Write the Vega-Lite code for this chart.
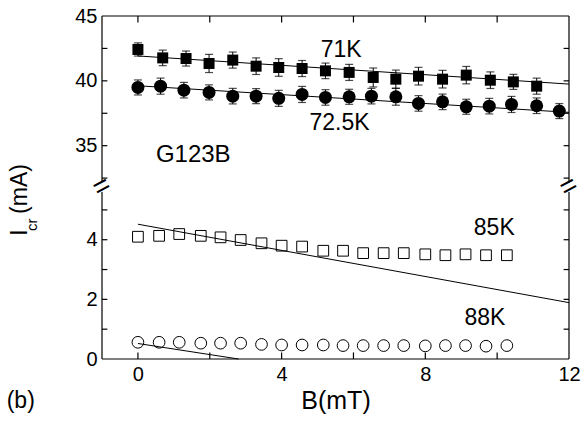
{
  "$schema": "https://vega.github.io/schema/vega-lite/v6.json",
  "width": 467,
  "height": 343,
  "autosize": {"type": "none"},
  "padding": {"left": 102, "top": 16, "right": 15, "bottom": 64},
  "background": "white",
  "datasets": {
    "points": [
      {"series": "71K", "B": 0, "I": 42.42, "lo": 41.91, "hi": 42.93},
      {"series": "71K", "B": 0.69, "I": 41.77, "lo": 41.17, "hi": 42.37},
      {"series": "71K", "B": 1.34, "I": 41.72, "lo": 41.14, "hi": 42.3},
      {"series": "71K", "B": 1.98, "I": 41.34, "lo": 40.64, "hi": 42.04},
      {"series": "71K", "B": 2.64, "I": 41.6, "lo": 40.98, "hi": 42.22},
      {"series": "71K", "B": 3.29, "I": 41.13, "lo": 40.49, "hi": 41.77},
      {"series": "71K", "B": 3.92, "I": 41.03, "lo": 40.35, "hi": 41.71},
      {"series": "71K", "B": 4.57, "I": 40.95, "lo": 40.33, "hi": 41.57},
      {"series": "71K", "B": 5.22, "I": 40.77, "lo": 40.17, "hi": 41.37},
      {"series": "71K", "B": 5.88, "I": 40.65, "lo": 40.03, "hi": 41.27},
      {"series": "71K", "B": 6.55, "I": 40.26, "lo": 39.53, "hi": 40.99},
      {"series": "71K", "B": 7.18, "I": 40.13, "lo": 39.43, "hi": 40.83},
      {"series": "71K", "B": 7.81, "I": 40.36, "lo": 39.68, "hi": 41.04},
      {"series": "71K", "B": 8.48, "I": 40.13, "lo": 39.45, "hi": 40.81},
      {"series": "71K", "B": 9.14, "I": 40.44, "lo": 39.77, "hi": 41.11},
      {"series": "71K", "B": 9.81, "I": 40.05, "lo": 39.41, "hi": 40.69},
      {"series": "71K", "B": 10.45, "I": 39.92, "lo": 39.34, "hi": 40.5},
      {"series": "71K", "B": 11.1, "I": 39.59, "lo": 38.97, "hi": 40.21},
      {"series": "72.5K", "B": 0, "I": 39.49, "lo": 38.91, "hi": 40.07},
      {"series": "72.5K", "B": 0.63, "I": 39.59, "lo": 38.97, "hi": 40.21},
      {"series": "72.5K", "B": 1.28, "I": 39.28, "lo": 38.68, "hi": 39.88},
      {"series": "72.5K", "B": 1.98, "I": 39.11, "lo": 38.53, "hi": 39.69},
      {"series": "72.5K", "B": 2.64, "I": 38.82, "lo": 38.22, "hi": 39.42},
      {"series": "72.5K", "B": 3.29, "I": 38.82, "lo": 38.24, "hi": 39.4},
      {"series": "72.5K", "B": 3.92, "I": 38.65, "lo": 38.03, "hi": 39.27},
      {"series": "72.5K", "B": 4.57, "I": 38.95, "lo": 38.33, "hi": 39.57},
      {"series": "72.5K", "B": 5.22, "I": 38.72, "lo": 38.12, "hi": 39.32},
      {"series": "72.5K", "B": 5.88, "I": 38.77, "lo": 38.19, "hi": 39.35},
      {"series": "72.5K", "B": 6.5, "I": 38.82, "lo": 38.22, "hi": 39.42},
      {"series": "72.5K", "B": 7.18, "I": 38.77, "lo": 38.12, "hi": 39.42},
      {"series": "72.5K", "B": 7.81, "I": 38.26, "lo": 37.66, "hi": 38.86},
      {"series": "72.5K", "B": 8.48, "I": 38.38, "lo": 37.78, "hi": 38.98},
      {"series": "72.5K", "B": 9.14, "I": 38.0, "lo": 37.42, "hi": 38.58},
      {"series": "72.5K", "B": 9.78, "I": 38.05, "lo": 37.45, "hi": 38.65},
      {"series": "72.5K", "B": 10.4, "I": 38.18, "lo": 37.56, "hi": 38.8},
      {"series": "72.5K", "B": 11.1, "I": 38.08, "lo": 37.48, "hi": 38.68},
      {"series": "72.5K", "B": 11.73, "I": 37.67, "lo": 37.09, "hi": 38.25},
      {"series": "85K", "B": 0, "I": 4.1},
      {"series": "85K", "B": 0.59, "I": 4.13},
      {"series": "85K", "B": 1.15, "I": 4.19},
      {"series": "85K", "B": 1.75, "I": 4.13},
      {"series": "85K", "B": 2.3, "I": 4.08},
      {"series": "85K", "B": 2.86, "I": 3.99},
      {"series": "85K", "B": 3.44, "I": 3.88},
      {"series": "85K", "B": 4.0, "I": 3.8},
      {"series": "85K", "B": 4.57, "I": 3.77},
      {"series": "85K", "B": 5.16, "I": 3.63},
      {"series": "85K", "B": 5.71, "I": 3.63},
      {"series": "85K", "B": 6.27, "I": 3.55},
      {"series": "85K", "B": 6.84, "I": 3.55},
      {"series": "85K", "B": 7.4, "I": 3.55},
      {"series": "85K", "B": 8.0, "I": 3.51},
      {"series": "85K", "B": 8.56, "I": 3.48},
      {"series": "85K", "B": 9.12, "I": 3.51},
      {"series": "85K", "B": 9.69, "I": 3.48},
      {"series": "85K", "B": 10.27, "I": 3.48},
      {"series": "88K", "B": 0, "I": 0.56},
      {"series": "88K", "B": 0.59, "I": 0.56},
      {"series": "88K", "B": 1.15, "I": 0.56},
      {"series": "88K", "B": 1.75, "I": 0.53},
      {"series": "88K", "B": 2.3, "I": 0.53},
      {"series": "88K", "B": 2.86, "I": 0.53},
      {"series": "88K", "B": 3.44, "I": 0.49},
      {"series": "88K", "B": 4.0, "I": 0.47},
      {"series": "88K", "B": 4.57, "I": 0.47},
      {"series": "88K", "B": 5.16, "I": 0.47},
      {"series": "88K", "B": 5.71, "I": 0.45},
      {"series": "88K", "B": 6.27, "I": 0.45},
      {"series": "88K", "B": 6.84, "I": 0.45},
      {"series": "88K", "B": 7.4, "I": 0.45},
      {"series": "88K", "B": 8.0, "I": 0.44},
      {"series": "88K", "B": 8.56, "I": 0.45},
      {"series": "88K", "B": 9.12, "I": 0.45},
      {"series": "88K", "B": 9.69, "I": 0.43},
      {"series": "88K", "B": 10.27, "I": 0.45}
    ],
    "fits": [
      {"series": "71K", "B": 0, "I": 41.92},
      {"series": "71K", "B": 12, "I": 39.75},
      {"series": "72.5K", "B": 0, "I": 39.62},
      {"series": "72.5K", "B": 12, "I": 37.57},
      {"series": "85K", "B": 0, "I": 4.52},
      {"series": "85K", "B": 12, "I": 1.89},
      {"series": "88K", "B": 0, "I": 0.52},
      {"series": "88K", "B": 2.8, "I": 0}
    ],
    "frame": [
      {"x1": -1, "x2": -1, "y1": 0, "y2": 45},
      {"x1": 12, "x2": 12, "y1": 0, "y2": 45},
      {"x1": -1, "x2": 12, "y1": 0, "y2": 0},
      {"x1": -1, "x2": 12, "y1": 45, "y2": 45},
      {"x1": 0, "x2": 0, "y1": 0, "y2": 0.22},
      {"x1": 2, "x2": 2, "y1": 0, "y2": 0.22},
      {"x1": 4, "x2": 4, "y1": 0, "y2": 0.22},
      {"x1": 6, "x2": 6, "y1": 0, "y2": 0.22},
      {"x1": 8, "x2": 8, "y1": 0, "y2": 0.22},
      {"x1": 10, "x2": 10, "y1": 0, "y2": 0.22},
      {"x1": 0, "x2": 0, "y1": 45, "y2": 44.5},
      {"x1": 2, "x2": 2, "y1": 45, "y2": 44.5},
      {"x1": 4, "x2": 4, "y1": 45, "y2": 44.5},
      {"x1": 6, "x2": 6, "y1": 45, "y2": 44.5},
      {"x1": 8, "x2": 8, "y1": 45, "y2": 44.5},
      {"x1": 10, "x2": 10, "y1": 45, "y2": 44.5},
      {"x1": -1, "x2": -0.85, "y1": 1, "y2": 1},
      {"x1": -1, "x2": -0.85, "y1": 2, "y2": 2},
      {"x1": -1, "x2": -0.85, "y1": 3, "y2": 3},
      {"x1": -1, "x2": -0.85, "y1": 4, "y2": 4},
      {"x1": -1, "x2": -0.85, "y1": 5, "y2": 5},
      {"x1": -1, "x2": -0.85, "y1": 32.5, "y2": 32.5},
      {"x1": -1, "x2": -0.85, "y1": 35, "y2": 35},
      {"x1": -1, "x2": -0.85, "y1": 37.5, "y2": 37.5},
      {"x1": -1, "x2": -0.85, "y1": 40, "y2": 40},
      {"x1": -1, "x2": -0.85, "y1": 42.5, "y2": 42.5},
      {"x1": 12, "x2": 11.85, "y1": 1, "y2": 1},
      {"x1": 12, "x2": 11.85, "y1": 2, "y2": 2},
      {"x1": 12, "x2": 11.85, "y1": 3, "y2": 3},
      {"x1": 12, "x2": 11.85, "y1": 4, "y2": 4},
      {"x1": 12, "x2": 11.85, "y1": 5, "y2": 5},
      {"x1": 12, "x2": 11.85, "y1": 32.5, "y2": 32.5},
      {"x1": 12, "x2": 11.85, "y1": 35, "y2": 35},
      {"x1": 12, "x2": 11.85, "y1": 37.5, "y2": 37.5},
      {"x1": 12, "x2": 11.85, "y1": 40, "y2": 40},
      {"x1": 12, "x2": 11.85, "y1": 42.5, "y2": 42.5}
    ],
    "gap": [
      {"x1": -1, "x2": -1, "y1": 5.8, "y2": 32.0},
      {"x1": 12, "x2": 12, "y1": 5.8, "y2": 32.0}
    ],
    "one": [{}]
  },
  "layer": [
    {
      "data": {"name": "fits"},
      "mark": {"type": "line", "color": "black", "strokeWidth": 1},
      "encoding": {
        "x": {"field": "B", "type": "quantitative", "scale": {"domain": [-1, 12], "nice": false, "zero": false},
          "axis": {"orient": "bottom", "title": "B(mT)", "values": [0, 4, 8, 12], "domain": false, "ticks": false, "labelPadding": 5, "labelFlush": false, "titlePadding": 4}},
        "y": {"field": "I", "type": "quantitative", "scale": {"domain": [0, 5.6, 32.2, 45], "range": [343, 176, 166, 0], "nice": false, "zero": false},
          "axis": {"orient": "left", "title": null, "values": [0, 2, 4, 35, 40, 45], "domain": false, "ticks": false, "labelPadding": 5, "labelFlush": false}},
        "detail": {"field": "series"}
      }
    },
    {
      "data": {"name": "frame"},
      "mark": {"type": "rule", "color": "black", "strokeWidth": 1.2},
      "encoding": {
        "x": {"field": "x1", "type": "quantitative", "scale": {"domain": [-1, 12], "nice": false, "zero": false},
          "axis": {"orient": "bottom", "title": "B(mT)", "values": [0, 4, 8, 12], "domain": false, "ticks": false, "labelPadding": 5, "labelFlush": false, "titlePadding": 4}},
        "x2": {"field": "x2"},
        "y": {"field": "y1", "type": "quantitative", "scale": {"domain": [0, 5.6, 32.2, 45], "range": [343, 176, 166, 0], "nice": false, "zero": false},
          "axis": {"orient": "left", "title": null, "values": [0, 2, 4, 35, 40, 45], "domain": false, "ticks": false, "labelPadding": 5, "labelFlush": false}},
        "y2": {"field": "y2"}
      }
    },
    {
      "data": {"name": "gap"},
      "mark": {"type": "rule", "color": "white", "strokeWidth": 5},
      "encoding": {
        "x": {"field": "x1", "type": "quantitative", "scale": {"domain": [-1, 12], "nice": false, "zero": false},
          "axis": {"orient": "bottom", "title": "B(mT)", "values": [0, 4, 8, 12], "domain": false, "ticks": false, "labelPadding": 5, "labelFlush": false, "titlePadding": 4}},
        "x2": {"field": "x2"},
        "y": {"field": "y1", "type": "quantitative", "scale": {"domain": [0, 5.6, 32.2, 45], "range": [343, 176, 166, 0], "nice": false, "zero": false},
          "axis": {"orient": "left", "title": null, "values": [0, 2, 4, 35, 40, 45], "domain": false, "ticks": false, "labelPadding": 5, "labelFlush": false}},
        "y2": {"field": "y2"}
      }
    },
    {
      "data": {"name": "one"},
      "mark": {"type": "text", "text": "=", "fontSize": 28, "angle": -28, "align": "center", "baseline": "middle", "color": "black"},
      "encoding": {
        "x": {"datum": -1, "type": "quantitative", "scale": {"domain": [-1, 12], "nice": false, "zero": false},
          "axis": {"orient": "bottom", "title": "B(mT)", "values": [0, 4, 8, 12], "domain": false, "ticks": false, "labelPadding": 5, "labelFlush": false, "titlePadding": 4}},
        "y": {"datum": 18.9, "type": "quantitative", "scale": {"domain": [0, 5.6, 32.2, 45], "range": [343, 176, 166, 0], "nice": false, "zero": false},
          "axis": {"orient": "left", "title": null, "values": [0, 2, 4, 35, 40, 45], "domain": false, "ticks": false, "labelPadding": 5, "labelFlush": false}}
      }
    },
    {
      "data": {"name": "one"},
      "mark": {"type": "text", "text": "=", "fontSize": 28, "angle": -28, "align": "center", "baseline": "middle", "color": "black"},
      "encoding": {
        "x": {"datum": 12, "type": "quantitative", "scale": {"domain": [-1, 12], "nice": false, "zero": false},
          "axis": {"orient": "bottom", "title": "B(mT)", "values": [0, 4, 8, 12], "domain": false, "ticks": false, "labelPadding": 5, "labelFlush": false, "titlePadding": 4}},
        "y": {"datum": 18.9, "type": "quantitative", "scale": {"domain": [0, 5.6, 32.2, 45], "range": [343, 176, 166, 0], "nice": false, "zero": false},
          "axis": {"orient": "left", "title": null, "values": [0, 2, 4, 35, 40, 45], "domain": false, "ticks": false, "labelPadding": 5, "labelFlush": false}}
      }
    },
    {
      "data": {"name": "points"},
      "transform": [{"filter": "isValid(datum.lo)"}],
      "mark": {"type": "rule", "color": "black", "strokeWidth": 1},
      "encoding": {
        "x": {"field": "B", "type": "quantitative", "scale": {"domain": [-1, 12], "nice": false, "zero": false},
          "axis": {"orient": "bottom", "title": "B(mT)", "values": [0, 4, 8, 12], "domain": false, "ticks": false, "labelPadding": 5, "labelFlush": false, "titlePadding": 4}},
        "y": {"field": "lo", "type": "quantitative", "scale": {"domain": [0, 5.6, 32.2, 45], "range": [343, 176, 166, 0], "nice": false, "zero": false},
          "axis": {"orient": "left", "title": null, "values": [0, 2, 4, 35, 40, 45], "domain": false, "ticks": false, "labelPadding": 5, "labelFlush": false}},
        "y2": {"field": "hi"}
      }
    },
    {
      "data": {"name": "points"},
      "transform": [{"filter": "isValid(datum.lo)"}],
      "mark": {"type": "tick", "orient": "horizontal", "color": "black", "size": 8, "thickness": 1.2},
      "encoding": {
        "x": {"field": "B", "type": "quantitative", "scale": {"domain": [-1, 12], "nice": false, "zero": false},
          "axis": {"orient": "bottom", "title": "B(mT)", "values": [0, 4, 8, 12], "domain": false, "ticks": false, "labelPadding": 5, "labelFlush": false, "titlePadding": 4}},
        "y": {"field": "lo", "type": "quantitative", "scale": {"domain": [0, 5.6, 32.2, 45], "range": [343, 176, 166, 0], "nice": false, "zero": false},
          "axis": {"orient": "left", "title": null, "values": [0, 2, 4, 35, 40, 45], "domain": false, "ticks": false, "labelPadding": 5, "labelFlush": false}}
      }
    },
    {
      "data": {"name": "points"},
      "transform": [{"filter": "isValid(datum.hi)"}],
      "mark": {"type": "tick", "orient": "horizontal", "color": "black", "size": 8, "thickness": 1.2},
      "encoding": {
        "x": {"field": "B", "type": "quantitative", "scale": {"domain": [-1, 12], "nice": false, "zero": false},
          "axis": {"orient": "bottom", "title": "B(mT)", "values": [0, 4, 8, 12], "domain": false, "ticks": false, "labelPadding": 5, "labelFlush": false, "titlePadding": 4}},
        "y": {"field": "hi", "type": "quantitative", "scale": {"domain": [0, 5.6, 32.2, 45], "range": [343, 176, 166, 0], "nice": false, "zero": false},
          "axis": {"orient": "left", "title": null, "values": [0, 2, 4, 35, 40, 45], "domain": false, "ticks": false, "labelPadding": 5, "labelFlush": false}}
      }
    },
    {
      "data": {"name": "points"},
      "transform": [{"filter": "datum.series === '71K'"}],
      "mark": {"type": "point", "shape": "square", "filled": true, "color": "black", "size": 121, "opacity": 1},
      "encoding": {
        "x": {"field": "B", "type": "quantitative", "scale": {"domain": [-1, 12], "nice": false, "zero": false},
          "axis": {"orient": "bottom", "title": "B(mT)", "values": [0, 4, 8, 12], "domain": false, "ticks": false, "labelPadding": 5, "labelFlush": false, "titlePadding": 4}},
        "y": {"field": "I", "type": "quantitative", "scale": {"domain": [0, 5.6, 32.2, 45], "range": [343, 176, 166, 0], "nice": false, "zero": false},
          "axis": {"orient": "left", "title": null, "values": [0, 2, 4, 35, 40, 45], "domain": false, "ticks": false, "labelPadding": 5, "labelFlush": false}}
      }
    },
    {
      "data": {"name": "points"},
      "transform": [{"filter": "datum.series === '72.5K'"}],
      "mark": {"type": "point", "shape": "circle", "filled": true, "color": "black", "size": 169, "opacity": 1},
      "encoding": {
        "x": {"field": "B", "type": "quantitative", "scale": {"domain": [-1, 12], "nice": false, "zero": false},
          "axis": {"orient": "bottom", "title": "B(mT)", "values": [0, 4, 8, 12], "domain": false, "ticks": false, "labelPadding": 5, "labelFlush": false, "titlePadding": 4}},
        "y": {"field": "I", "type": "quantitative", "scale": {"domain": [0, 5.6, 32.2, 45], "range": [343, 176, 166, 0], "nice": false, "zero": false},
          "axis": {"orient": "left", "title": null, "values": [0, 2, 4, 35, 40, 45], "domain": false, "ticks": false, "labelPadding": 5, "labelFlush": false}}
      }
    },
    {
      "data": {"name": "points"},
      "transform": [{"filter": "datum.series === '85K'"}],
      "mark": {"type": "point", "shape": "square", "filled": false, "color": "black", "strokeWidth": 1, "size": 115, "opacity": 1},
      "encoding": {
        "x": {"field": "B", "type": "quantitative", "scale": {"domain": [-1, 12], "nice": false, "zero": false},
          "axis": {"orient": "bottom", "title": "B(mT)", "values": [0, 4, 8, 12], "domain": false, "ticks": false, "labelPadding": 5, "labelFlush": false, "titlePadding": 4}},
        "y": {"field": "I", "type": "quantitative", "scale": {"domain": [0, 5.6, 32.2, 45], "range": [343, 176, 166, 0], "nice": false, "zero": false},
          "axis": {"orient": "left", "title": null, "values": [0, 2, 4, 35, 40, 45], "domain": false, "ticks": false, "labelPadding": 5, "labelFlush": false}}
      }
    },
    {
      "data": {"name": "points"},
      "transform": [{"filter": "datum.series === '88K'"}],
      "mark": {"type": "point", "shape": "circle", "filled": false, "color": "black", "strokeWidth": 1, "size": 137, "opacity": 1},
      "encoding": {
        "x": {"field": "B", "type": "quantitative", "scale": {"domain": [-1, 12], "nice": false, "zero": false},
          "axis": {"orient": "bottom", "title": "B(mT)", "values": [0, 4, 8, 12], "domain": false, "ticks": false, "labelPadding": 5, "labelFlush": false, "titlePadding": 4}},
        "y": {"field": "I", "type": "quantitative", "scale": {"domain": [0, 5.6, 32.2, 45], "range": [343, 176, 166, 0], "nice": false, "zero": false},
          "axis": {"orient": "left", "title": null, "values": [0, 2, 4, 35, 40, 45], "domain": false, "ticks": false, "labelPadding": 5, "labelFlush": false}}
      }
    },
    {
      "data": {"name": "one"},
      "mark": {"type": "text", "text": "71K", "fontSize": 23, "align": "center", "baseline": "middle"},
      "encoding": {
        "x": {"datum": 5.66, "type": "quantitative", "scale": {"domain": [-1, 12], "nice": false, "zero": false},
          "axis": {"orient": "bottom", "title": "B(mT)", "values": [0, 4, 8, 12], "domain": false, "ticks": false, "labelPadding": 5, "labelFlush": false, "titlePadding": 4}},
        "y": {"datum": 42.38, "type": "quantitative", "scale": {"domain": [0, 5.6, 32.2, 45], "range": [343, 176, 166, 0], "nice": false, "zero": false},
          "axis": {"orient": "left", "title": null, "values": [0, 2, 4, 35, 40, 45], "domain": false, "ticks": false, "labelPadding": 5, "labelFlush": false}}
      }
    },
    {
      "data": {"name": "one"},
      "mark": {"type": "text", "text": "72.5K", "fontSize": 23, "align": "center", "baseline": "middle"},
      "encoding": {
        "x": {"datum": 5.61, "type": "quantitative", "scale": {"domain": [-1, 12], "nice": false, "zero": false},
          "axis": {"orient": "bottom", "title": "B(mT)", "values": [0, 4, 8, 12], "domain": false, "ticks": false, "labelPadding": 5, "labelFlush": false, "titlePadding": 4}},
        "y": {"datum": 36.75, "type": "quantitative", "scale": {"domain": [0, 5.6, 32.2, 45], "range": [343, 176, 166, 0], "nice": false, "zero": false},
          "axis": {"orient": "left", "title": null, "values": [0, 2, 4, 35, 40, 45], "domain": false, "ticks": false, "labelPadding": 5, "labelFlush": false}}
      }
    },
    {
      "data": {"name": "one"},
      "mark": {"type": "text", "text": "G123B", "fontSize": 24, "align": "center", "baseline": "middle"},
      "encoding": {
        "x": {"datum": 1.54, "type": "quantitative", "scale": {"domain": [-1, 12], "nice": false, "zero": false},
          "axis": {"orient": "bottom", "title": "B(mT)", "values": [0, 4, 8, 12], "domain": false, "ticks": false, "labelPadding": 5, "labelFlush": false, "titlePadding": 4}},
        "y": {"datum": 34.25, "type": "quantitative", "scale": {"domain": [0, 5.6, 32.2, 45], "range": [343, 176, 166, 0], "nice": false, "zero": false},
          "axis": {"orient": "left", "title": null, "values": [0, 2, 4, 35, 40, 45], "domain": false, "ticks": false, "labelPadding": 5, "labelFlush": false}}
      }
    },
    {
      "data": {"name": "one"},
      "mark": {"type": "text", "text": "85K", "fontSize": 23, "align": "center", "baseline": "middle"},
      "encoding": {
        "x": {"datum": 9.92, "type": "quantitative", "scale": {"domain": [-1, 12], "nice": false, "zero": false},
          "axis": {"orient": "bottom", "title": "B(mT)", "values": [0, 4, 8, 12], "domain": false, "ticks": false, "labelPadding": 5, "labelFlush": false, "titlePadding": 4}},
        "y": {"datum": 4.4, "type": "quantitative", "scale": {"domain": [0, 5.6, 32.2, 45], "range": [343, 176, 166, 0], "nice": false, "zero": false},
          "axis": {"orient": "left", "title": null, "values": [0, 2, 4, 35, 40, 45], "domain": false, "ticks": false, "labelPadding": 5, "labelFlush": false}}
      }
    },
    {
      "data": {"name": "one"},
      "mark": {"type": "text", "text": "88K", "fontSize": 23, "align": "center", "baseline": "middle"},
      "encoding": {
        "x": {"datum": 9.66, "type": "quantitative", "scale": {"domain": [-1, 12], "nice": false, "zero": false},
          "axis": {"orient": "bottom", "title": "B(mT)", "values": [0, 4, 8, 12], "domain": false, "ticks": false, "labelPadding": 5, "labelFlush": false, "titlePadding": 4}},
        "y": {"datum": 1.39, "type": "quantitative", "scale": {"domain": [0, 5.6, 32.2, 45], "range": [343, 176, 166, 0], "nice": false, "zero": false},
          "axis": {"orient": "left", "title": null, "values": [0, 2, 4, 35, 40, 45], "domain": false, "ticks": false, "labelPadding": 5, "labelFlush": false}}
      }
    },
    {
      "data": {"name": "one"},
      "mark": {"type": "text", "text": "I", "fontSize": 23, "angle": 270, "align": "left", "baseline": "alphabetic"},
      "encoding": {
        "x": {"datum": -3.083, "type": "quantitative", "scale": {"domain": [-1, 12], "nice": false, "zero": false},
          "axis": {"orient": "bottom", "title": "B(mT)", "values": [0, 4, 8, 12], "domain": false, "ticks": false, "labelPadding": 5, "labelFlush": false, "titlePadding": 4}},
        "y": {"datum": 4.13, "type": "quantitative", "scale": {"domain": [0, 5.6, 32.2, 45], "range": [343, 176, 166, 0], "nice": false, "zero": false},
          "axis": {"orient": "left", "title": null, "values": [0, 2, 4, 35, 40, 45], "domain": false, "ticks": false, "labelPadding": 5, "labelFlush": false}}
      }
    },
    {
      "data": {"name": "one"},
      "mark": {"type": "text", "text": "cr", "fontSize": 15, "angle": 270, "align": "left", "baseline": "alphabetic"},
      "encoding": {
        "x": {"datum": -2.806, "type": "quantitative", "scale": {"domain": [-1, 12], "nice": false, "zero": false},
          "axis": {"orient": "bottom", "title": "B(mT)", "values": [0, 4, 8, 12], "domain": false, "ticks": false, "labelPadding": 5, "labelFlush": false, "titlePadding": 4}},
        "y": {"datum": 4.295, "type": "quantitative", "scale": {"domain": [0, 5.6, 32.2, 45], "range": [343, 176, 166, 0], "nice": false, "zero": false},
          "axis": {"orient": "left", "title": null, "values": [0, 2, 4, 35, 40, 45], "domain": false, "ticks": false, "labelPadding": 5, "labelFlush": false}}
      }
    },
    {
      "data": {"name": "one"},
      "mark": {"type": "text", "text": "(mA)", "fontSize": 23, "angle": 270, "align": "left", "baseline": "alphabetic"},
      "encoding": {
        "x": {"datum": -3.083, "type": "quantitative", "scale": {"domain": [-1, 12], "nice": false, "zero": false},
          "axis": {"orient": "bottom", "title": "B(mT)", "values": [0, 4, 8, 12], "domain": false, "ticks": false, "labelPadding": 5, "labelFlush": false, "titlePadding": 4}},
        "y": {"datum": 4.866, "type": "quantitative", "scale": {"domain": [0, 5.6, 32.2, 45], "range": [343, 176, 166, 0], "nice": false, "zero": false},
          "axis": {"orient": "left", "title": null, "values": [0, 2, 4, 35, 40, 45], "domain": false, "ticks": false, "labelPadding": 5, "labelFlush": false}}
      }
    },
    {
      "data": {"name": "one"},
      "mark": {"type": "text", "text": "(b)", "fontSize": 23, "align": "left", "baseline": "alphabetic"},
      "encoding": {
        "x": {"datum": -3.653, "type": "quantitative", "scale": {"domain": [-1, 12], "nice": false, "zero": false},
          "axis": {"orient": "bottom", "title": "B(mT)", "values": [0, 4, 8, 12], "domain": false, "ticks": false, "labelPadding": 5, "labelFlush": false, "titlePadding": 4}},
        "y": {"datum": -1.644, "type": "quantitative", "scale": {"domain": [0, 5.6, 32.2, 45], "range": [343, 176, 166, 0], "nice": false, "zero": false},
          "axis": {"orient": "left", "title": null, "values": [0, 2, 4, 35, 40, 45], "domain": false, "ticks": false, "labelPadding": 5, "labelFlush": false}}
      }
    }
  ],
  "config": {
    "view": {"stroke": null},
    "font": "Liberation Sans",
    "text": {"font": "Liberation Sans", "color": "black"},
    "axis": {
      "grid": false,
      "labelColor": "black",
      "labelFont": "Liberation Sans",
      "labelFontSize": 20,
      "titleFont": "Liberation Sans",
      "titleFontSize": 25,
      "titleFontWeight": "normal",
      "titleColor": "black"
    }
  }
}
